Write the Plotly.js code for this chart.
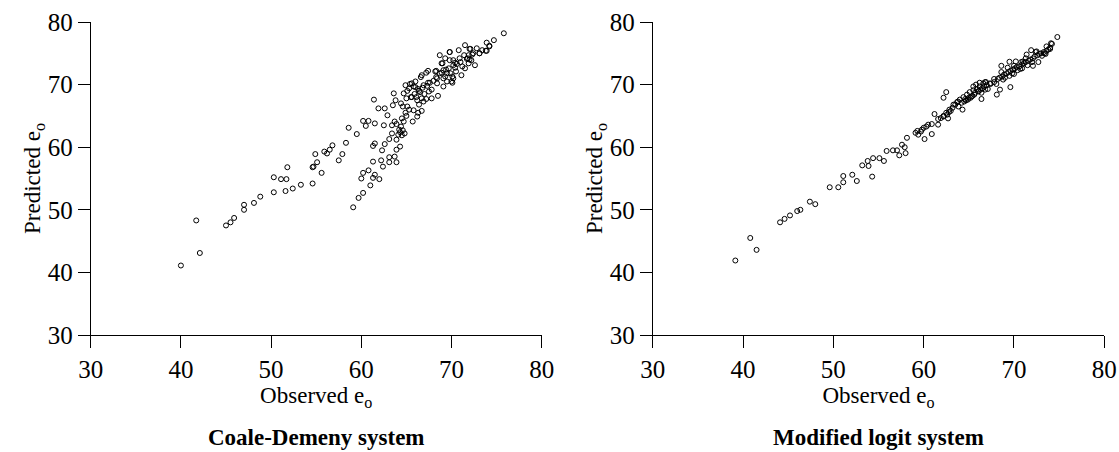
<!DOCTYPE html>
<html>
<head>
<meta charset="utf-8">
<script src="https://cdn.plot.ly/plotly-3.0.1.min.js"></script>
<style>html,body{margin:0;padding:0;background:#fff;}#chart{width:1119px;height:452px;}</style>
</head>
<body>
<div id="chart"></div>
<script>
// Coale-Demeny system: observed e0 / predicted e0
const cdObserved = [
40.0,41.7,42.1,45.0,45.5,45.9,47.0,47.0,48.1,48.8,50.3,50.3,51.1,51.7,51.6,51.8,52.4,53.3,54.6,54.6,54.7,55.6,55.1,54.9,55.9,56.2,56.5,56.8,58.3,57.9,57.5,58.6,
59.1,59.7,60.2,61.0,60.0,60.2,60.8,61.5,62.0,61.3,61.3,62.2,62.4,63.1,63.1,63.7,63.9,61.3,61.5,62.3,62.6,63.1,63.4,63.9,64.3,63.9,64.1,62.5,61.9,62.9,63.5,
59.5,60.2,60.8,60.5,61.5,61.4,62.6,63.6,63.4,63.9,64.2,64.4,64.7,64.5,64.9,65.4,65.8,66.3,66.9,67.4,66.7,67.4,64.7,65.0,65.6,66.2,66.7,67.2,67.8,68.5,
64.6,65.1,65.8,66.7,66.2,65.7,63.7,64.5,65.0,64.8,65.5,65.9,66.5,66.8,67.0,67.3,67.6,66.0,65.6,64.4,63.8,66.4,66.9,67.5,68.0,68.3,67.2,66.6,65.3,66.3,64.9,66.1,
68.7,69.8,70.8,71.5,72.1,72.8,73.4,73.9,74.2,73.9,74.7,75.8,
68.9,69.3,69.8,70.4,70.9,71.4,71.9,72.4,73.1,72.2,72.6,71.5,71.1,70.0,70.1,69.5,69.1,68.7,68.3,68.4,69.1,69.5,68.4,67.8,
70.2,70.6,71.0,71.8,72.0,70.4,71.2,74.2,73.8,73.1,72.3,72.0,70.2,71.7,71.9,70.2,70.1,69.3,69.7,69.1,68.2,69.0,69.8,
64.3,64.6,65.1,65.3,66.0,66.4,69.4,69.9,70.5,68.9
];
const cdPredicted = [
41.1,48.3,43.1,47.5,48.0,48.7,50.0,50.8,51.1,52.1,52.8,55.2,54.9,54.9,53.0,56.8,53.4,54.0,54.2,56.8,56.9,55.9,57.6,58.9,59.3,59.0,59.6,60.3,60.7,58.9,57.9,63.1,
50.4,51.9,52.7,53.9,55.0,55.9,56.3,55.6,54.9,55.1,57.7,57.9,56.9,58.4,57.6,58.5,57.6,60.2,60.6,59.5,60.5,61.3,62.2,59.6,60.1,61.2,62.0,63.5,66.2,65.1,66.7,
62.1,64.2,64.2,63.4,63.8,67.6,66.2,68.6,63.5,63.7,62.8,63.3,64.1,61.9,69.9,70.1,69.7,69.3,69.9,70.3,71.5,72.2,68.6,67.8,68.0,67.5,67.8,67.7,67.8,68.2,
66.5,66.5,65.9,65.8,64.9,64.1,64.1,64.6,65.0,62.2,68.0,68.5,68.8,69.5,68.5,69.8,70.3,70.5,70.2,67.0,67.5,66.8,67.3,68.9,70.6,71.2,71.9,71.2,66.0,65.5,65.5,68.0,
74.7,75.2,75.5,76.3,75.7,75.8,75.5,75.4,76.2,76.7,77.1,78.2,
73.4,74.2,73.9,73.5,74.2,74.7,74.7,75.0,75.0,73.9,73.1,72.6,71.5,70.5,71.3,71.8,72.3,71.8,72.2,71.0,71.0,70.5,70.2,69.2,
73.1,73.3,73.6,74.2,74.0,72.7,72.9,76.1,75.4,75.0,74.8,75.7,71.0,74.1,73.4,73.9,70.3,71.3,72.6,69.7,72.1,73.4,75.2,
62.4,62.7,69.0,69.4,69.6,69.0,72.4,71.8,72.1,71.9
];

// Modified logit system: observed e0 / predicted e0
const mlObserved = [
39.15,40.8,41.5,44.1,44.6,45.2,46.0,46.35,47.4,48.0,49.6,50.55,51.1,51.1,52.1,52.6,53.2,53.8,53.9,54.3,54.4,55.1,55.6,55.9,56.6,57.05,57.3,57.6,57.9,58.0,58.15,
59.1,59.4,59.7,59.8,60.0,60.3,60.5,60.9,60.1,60.9,59.3,61.2,61.6,61.6,61.9,62.2,62.5,62.2,62.5,62.85,63.2,63.3,63.5,63.8,64.0,64.4,64.8,65.1,65.5,65.9,66.2,66.6,66.9,66.8,66.4,
62.2,62.6,64.3,63.85,64.2,63.7,64.6,65.0,65.3,65.7,66.06,65.5,65.8,66.2,67.1,62.8,63.0,62.7,
64.5,64.7,64.9,65.2,65.4,65.6,66.1,66.3,66.5,66.7,67.0,67.4,67.8,68.2,68.4,68.7,68.9,69.2,69.4,69.6,69.9,70.1,70.3,70.6,70.9,71.1,71.3,71.6,71.8,72.1,72.3,72.6,72.8,73.0,73.3,73.6,73.8,74.0,
68.6,69.0,69.8,70.4,70.9,71.5,72.0,70.0,70.8,71.3,69.3,68.8,69.5,72.4,73.1,73.5,
66.4,68.05,68.45,68.1,68.6,69.5,69.6,70.0,71.0,71.4,71.9,72.1,72.7,72.5,73.4,74.0,74.2,74.8,74.1,73.6,67.8,67.35,66.8,70.2,70.7
];
const mlPredicted = [
41.9,45.5,43.6,48.0,48.55,49.1,49.8,50.0,51.3,50.9,53.6,53.6,54.4,55.4,55.6,54.6,57.1,57.8,57.0,55.3,58.25,58.25,57.8,59.4,59.5,59.5,58.7,60.4,60.0,59.05,61.5,
62.3,62.0,62.5,62.8,63.1,63.3,63.6,63.7,61.3,62.1,62.6,65.3,64.5,63.6,64.65,65.0,65.5,67.9,68.8,66.0,66.3,66.8,66.8,67.3,67.6,68.0,68.4,68.8,69.1,69.3,69.7,70.2,70.4,69.2,68.7,
64.9,65.2,66.0,66.5,67.1,67.2,67.7,67.9,68.1,68.7,68.9,69.7,70.0,70.3,69.3,65.6,65.8,64.6,
67.3,67.5,67.6,67.9,68.2,68.4,69.0,69.2,69.4,69.7,69.9,70.1,70.4,70.9,71.1,71.3,71.6,71.8,72.0,72.2,72.4,72.6,72.8,72.9,73.2,73.4,73.6,73.8,74.0,74.2,74.5,74.7,74.9,75.0,75.2,75.4,75.6,75.9,
72.0,71.1,71.8,72.3,72.6,73.1,73.6,73.0,73.6,74.2,72.7,70.8,71.4,75.2,74.6,74.9,
67.7,70.1,69.2,68.4,73.0,73.65,69.6,71.7,73.7,74.8,75.5,73.0,73.6,75.3,75.0,75.7,76.5,77.6,76.6,76.1,70.9,70.2,70.4,73.7,72.5
];

const tickVals = [30, 40, 50, 60, 70, 80];
const tickText = ['30', '40', '50', '60', '70', '80'];
const panelTitles = ['Coale-Demeny system', 'Modified logit system'];

const FONT = 'Liberation Serif';
const marker = {symbol: 'circle-open', size: 5, color: '#000', line: {color: '#000', width: 1}};

const traces = [
  {x: cdObserved, y: cdPredicted, xaxis: 'x', yaxis: 'y', type: 'scatter', mode: 'markers', marker: marker, hoverinfo: 'x+y', showlegend: false},
  {x: mlObserved, y: mlPredicted, xaxis: 'x2', yaxis: 'y2', type: 'scatter', mode: 'markers', marker: marker, hoverinfo: 'x+y', showlegend: false}
];

function axis(domain, anchor, title, standoff) {
  return {
    domain: domain, anchor: anchor, range: [30, 80],
    tickmode: 'array', tickvals: tickVals, ticktext: tickText,
    ticks: 'outside', ticklen: 12, tickwidth: 1, tickcolor: '#000',
    showline: true, linecolor: '#000', linewidth: 1, mirror: false,
    showgrid: false, zeroline: false, fixedrange: true,
    tickfont: {family: FONT, size: 25, color: '#000'},
    title: {text: title, font: {family: FONT, size: 23, color: '#000'}, standoff: standoff}
  };
}

const yDom = [1 - 335 / 452, 1 - 22 / 452];
const x1Dom = [90.7 / 1119, 541.7 / 1119];
const x2Dom = [652.7 / 1119, 1104.3 / 1119];

const layout = {
  width: 1119, height: 452,
  margin: {l: 0, r: 0, t: 0, b: 0},
  paper_bgcolor: '#fff', plot_bgcolor: '#fff',
  font: {family: FONT, size: 23, color: '#000'},
  showlegend: false,
  xaxis: axis(x1Dom, 'y', 'Observed e<sub>o</sub>', 2),
  yaxis: axis(yDom, 'x', 'Predicted e<sub>o</sub>', 0),
  xaxis2: axis(x2Dom, 'y2', 'Observed e<sub>o</sub>', 2),
  yaxis2: axis(yDom, 'x2', 'Predicted e<sub>o</sub>', 0),
  annotations: [
    {text: '<b>' + panelTitles[0] + '</b>', xref: 'paper', yref: 'paper', x: (x1Dom[0] + x1Dom[1]) / 2, y: 1 - 437 / 452, xanchor: 'center', yanchor: 'middle', showarrow: false, font: {family: FONT, size: 23, color: '#000'}},
    {text: '<b>' + panelTitles[1] + '</b>', xref: 'paper', yref: 'paper', x: (x2Dom[0] + x2Dom[1]) / 2, y: 1 - 437 / 452, xanchor: 'center', yanchor: 'middle', showarrow: false, font: {family: FONT, size: 23, color: '#000'}}
  ]
};

Plotly.newPlot('chart', traces, layout, {displayModeBar: false, staticPlot: true});
</script>
</body>
</html>
